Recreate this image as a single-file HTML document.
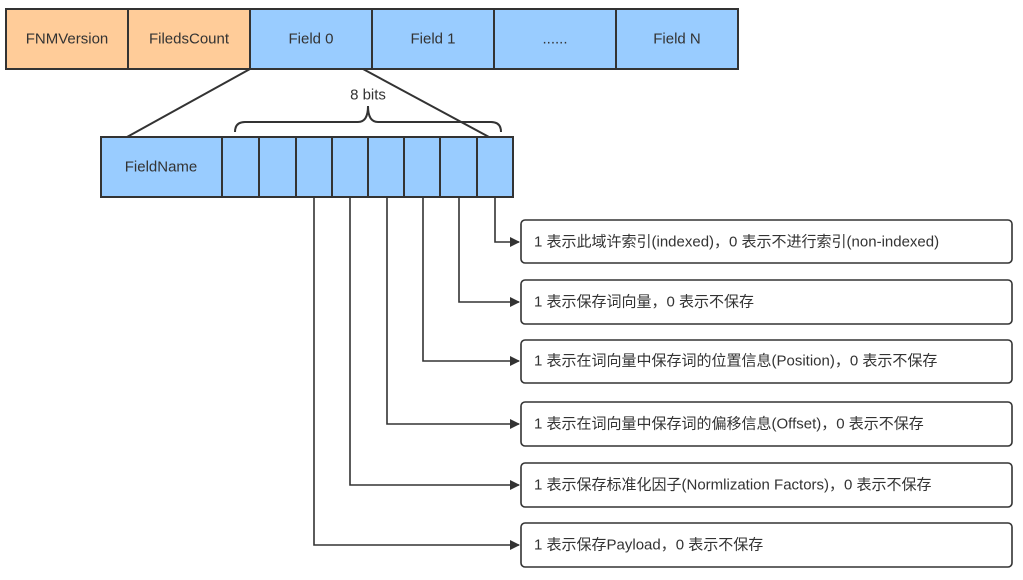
<!DOCTYPE html>
<html><head><meta charset="utf-8"><style>
body{margin:0;background:#fff;width:1023px;height:575px;overflow:hidden}
svg text{font-family:"Liberation Sans","Noto Sans CJK SC",sans-serif;font-size:15px;fill:#333}
</style></head><body>
<svg width="1023" height="575" xmlns="http://www.w3.org/2000/svg">
<defs><marker id="a" markerWidth="10" markerHeight="10" refX="9" refY="5" orient="auto" markerUnits="userSpaceOnUse"><path d="M0,0 L10,5 L0,10 z" fill="#333"/></marker></defs>
<g stroke="#333" stroke-width="2">
<rect x="6" y="9" width="122" height="60" fill="#ffcc99"/>
<rect x="128" y="9" width="122" height="60" fill="#ffcc99"/>
<rect x="250" y="9" width="122" height="60" fill="#99ccff"/>
<rect x="372" y="9" width="122" height="60" fill="#99ccff"/>
<rect x="494" y="9" width="122" height="60" fill="#99ccff"/>
<rect x="616" y="9" width="122" height="60" fill="#99ccff"/>
<line x1="250" y1="69" x2="127" y2="137"/>
<line x1="363" y1="69" x2="489" y2="137"/>
<rect x="101" y="137" width="121" height="60" fill="#99ccff"/>
<rect x="222" y="137" width="37" height="60" fill="#99ccff"/>
<rect x="259" y="137" width="37" height="60" fill="#99ccff"/>
<rect x="296" y="137" width="36" height="60" fill="#99ccff"/>
<rect x="332" y="137" width="36" height="60" fill="#99ccff"/>
<rect x="368" y="137" width="36" height="60" fill="#99ccff"/>
<rect x="404" y="137" width="36" height="60" fill="#99ccff"/>
<rect x="440" y="137" width="37" height="60" fill="#99ccff"/>
<rect x="477" y="137" width="36" height="60" fill="#99ccff"/>
<path d="M235,132 Q235,122 245,122 L358,122 Q368,122 368,106 Q368,122 378,122 L491,122 Q501,122 501,132" fill="none"/>
</g>
<g stroke="#333" stroke-width="1.6" fill="none" marker-end="url(#a)">
<polyline points="495,197 495,242 519,242"/>
<polyline points="459,197 459,302 519,302"/>
<polyline points="423,197 423,361 519,361"/>
<polyline points="387,197 387,424 519,424"/>
<polyline points="350,197 350,485 519,485"/>
<polyline points="314,197 314,545 519,545"/>
</g>
<g stroke="#333" stroke-width="1.6" fill="#fff">
<rect x="521" y="220" width="491" height="43" rx="4"/>
<rect x="521" y="280" width="491" height="44" rx="4"/>
<rect x="521" y="340" width="491" height="43" rx="4"/>
<rect x="521" y="402" width="491" height="44" rx="4"/>
<rect x="521" y="463" width="491" height="44" rx="4"/>
<rect x="521" y="523" width="491" height="44" rx="4"/>
</g>
<g text-anchor="middle" dominant-baseline="central">
<text x="67" y="39">FNMVersion</text>
<text x="189" y="39">FiledsCount</text>
<text x="311" y="39">Field 0</text>
<text x="433" y="39">Field 1</text>
<text x="555" y="39">......</text>
<text x="677" y="39">Field N</text>
<text x="161" y="167">FieldName</text>
<text x="368" y="95">8 bits</text>
</g>
<g dominant-baseline="central">
<text x="534" y="242">1 表示此域许索引(indexed)，0 表示不进行索引(non-indexed)</text>
<text x="534" y="302">1 表示保存词向量，0 表示不保存</text>
<text x="534" y="361">1 表示在词向量中保存词的位置信息(Position)，0 表示不保存</text>
<text x="534" y="424">1 表示在词向量中保存词的偏移信息(Offset)，0 表示不保存</text>
<text x="534" y="485">1 表示保存标准化因子(Normlization Factors)，0 表示不保存</text>
<text x="534" y="545">1 表示保存Payload，0 表示不保存</text>
</g>
</svg>
</body></html>
